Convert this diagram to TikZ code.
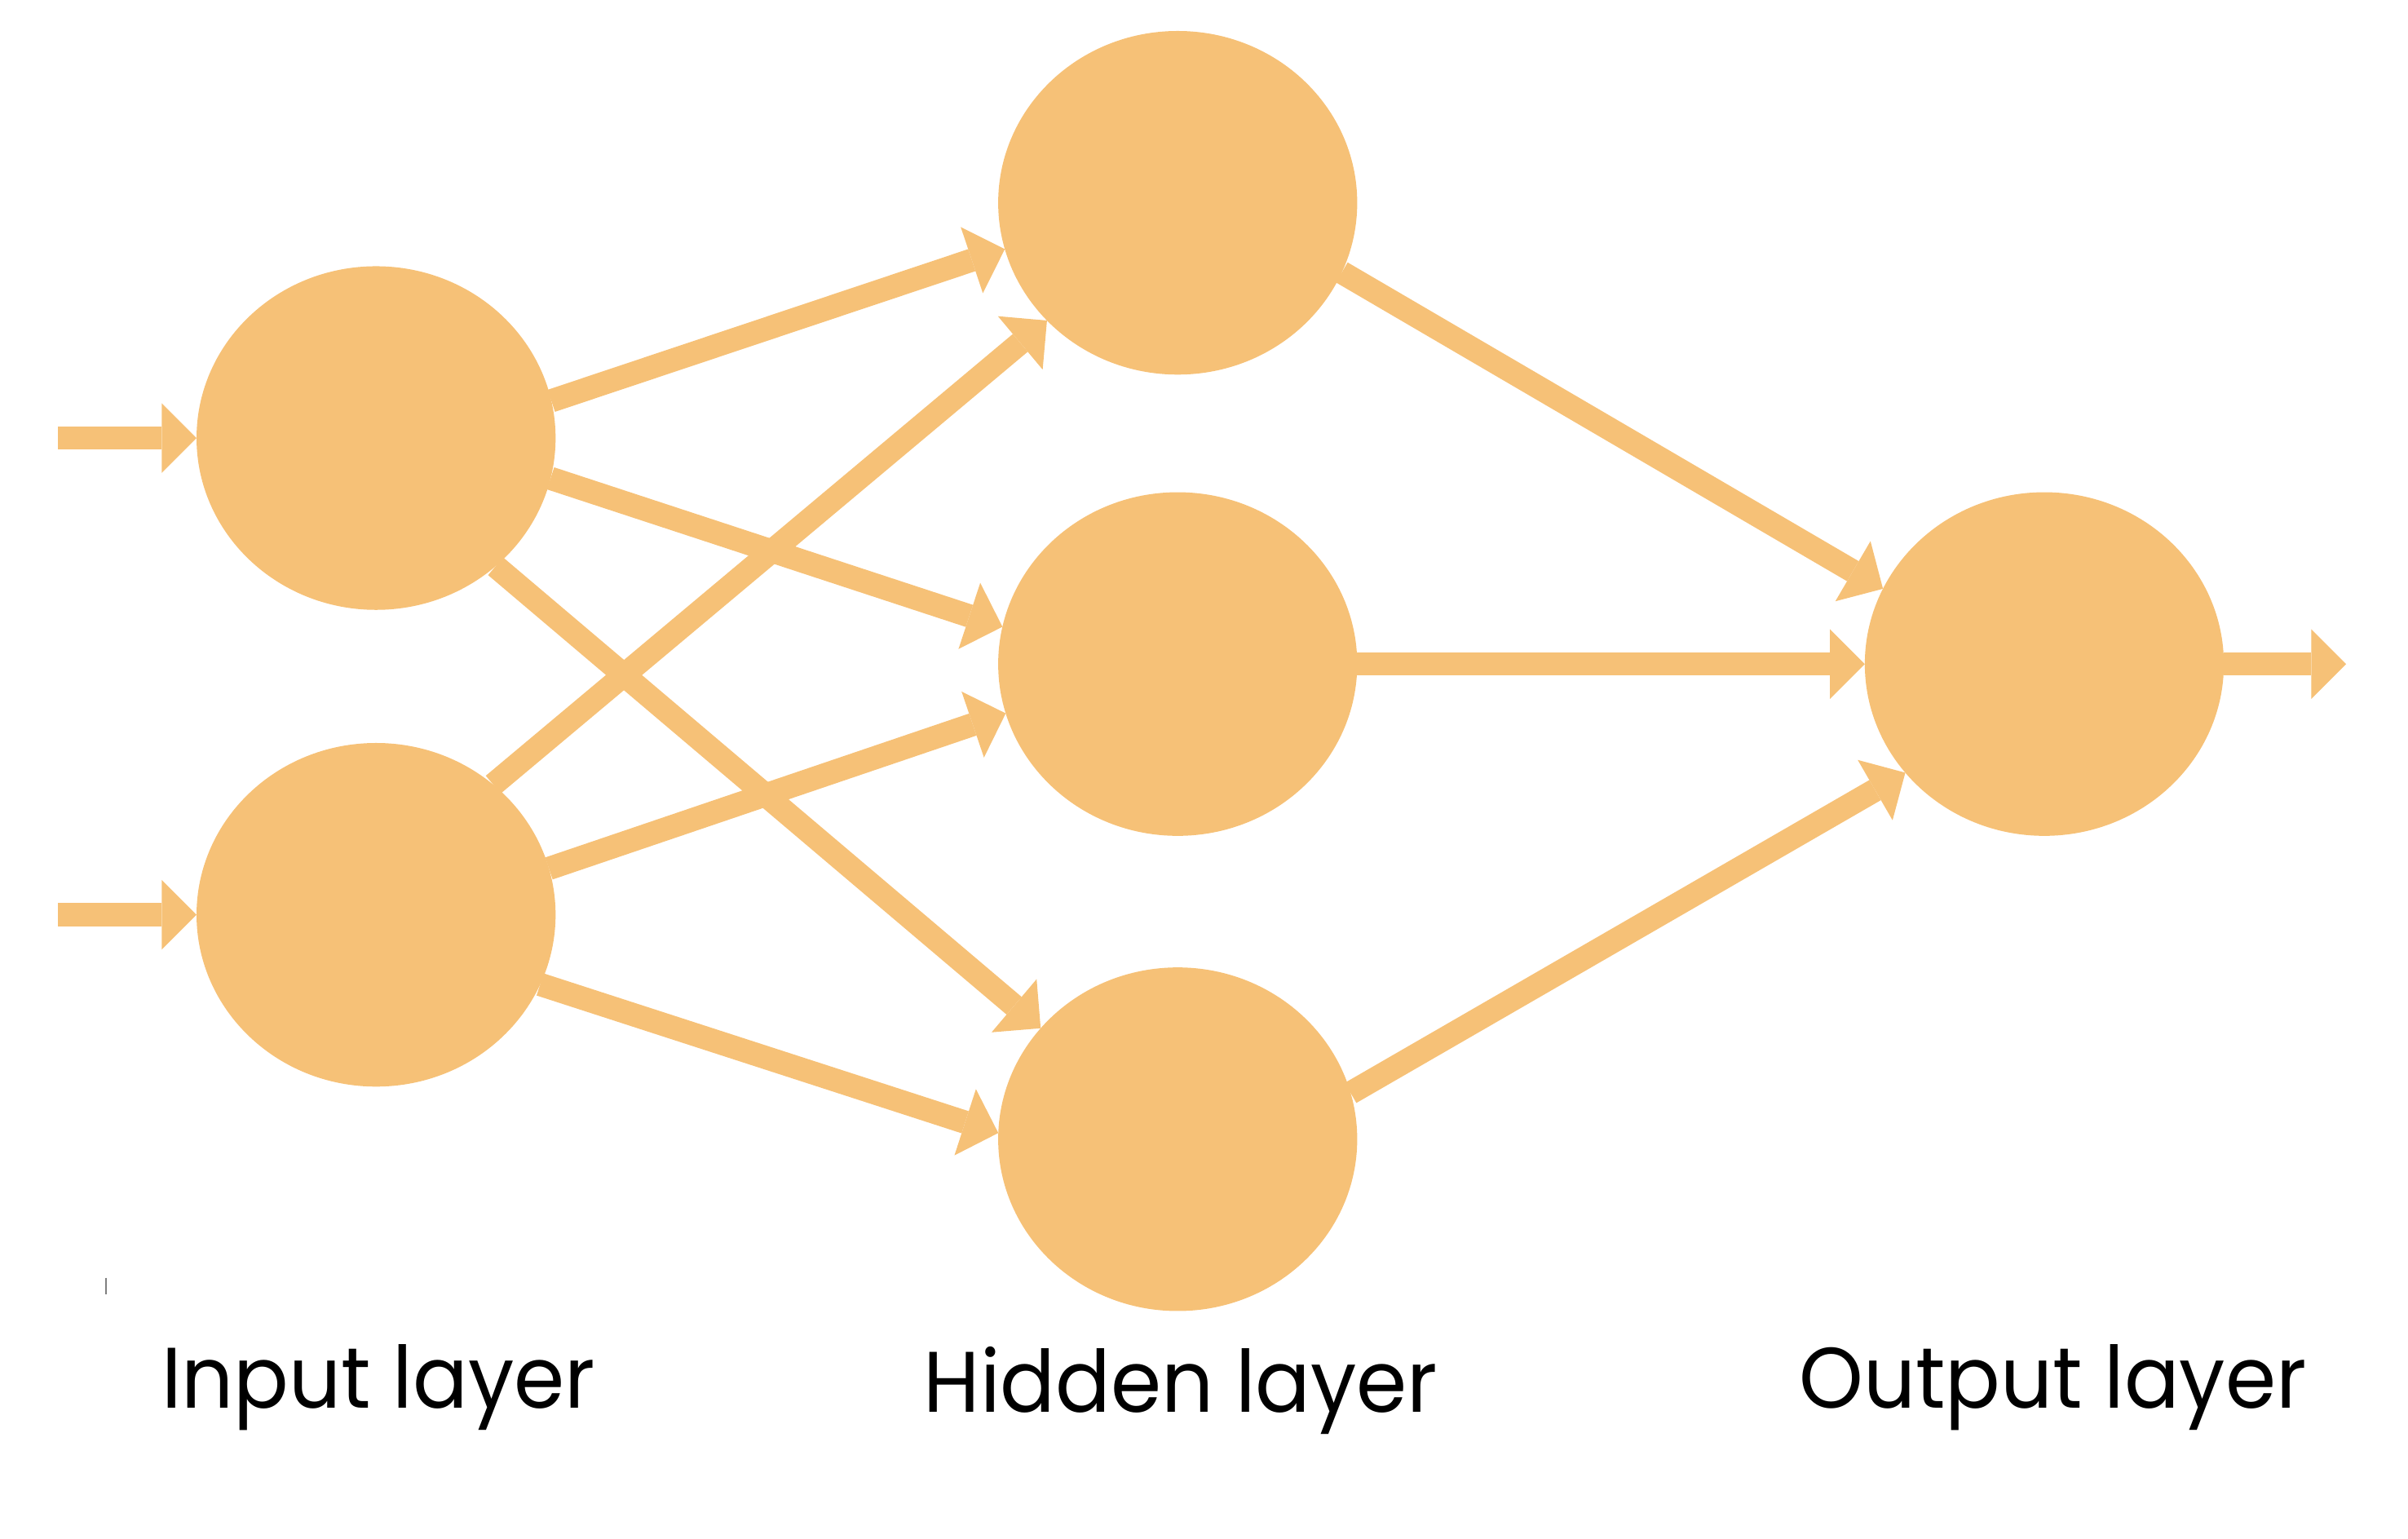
\documentclass[tikz,border=0pt]{standalone}
\usepackage{fontspec}
\setmainfont{Poppins}[FakeStretch = 0.95]
\usetikzlibrary{arrows.meta,shapes.geometric}

\definecolor{neuroncol}{HTML}{F6C177}

\tikzset{
	neuron/.style = {ellipse, fill = neuroncol, minimum width = 2.32cm, minimum height = 2.22cm, inner sep = 0pt, outer sep = 0pt},
	link/.style = {draw = neuroncol, line width = 1.5mm, -{Triangle[length = 2.25mm, width = 4.5mm, line width = 0pt]}},
	layerlabel/.style = {anchor = base, font = \fontsize{15.8}{19}\selectfont}
}

\begin{document}
\begin{tikzpicture}

\useasboundingbox (0, 0) rectangle (15.56, -9.938);

\node[neuron] (in1) at (2.43, -2.83) {};
\node[neuron] (in2) at (2.43, -5.91) {};
\node[neuron] (h1) at (7.61, -1.31) {};
\node[neuron] (h2) at (7.61, -4.29) {};
\node[neuron] (h3) at (7.61, -7.36) {};
\node[neuron] (out) at (13.21, -4.29) {};

\coordinate (x1) at (0.376, -2.83);
\coordinate (x2) at (0.376, -5.91);
\coordinate (y) at (15.16, -4.29);

\draw[link] (x1) -- (in1);
\draw[link] (x2) -- (in2);

\draw[link] (in1.12) -- (h1.195);
\draw[link] (in1.347) -- (h2.168);
\draw[link] (in1.313) -- (h3.141);

\draw[link] (in2.48) -- (h1.222);
\draw[link] (in2.15) -- (h2.196);
\draw[link] (in2.337) -- (h3.178);

\draw[link] (h1.337) -- (out.155);
\draw[link] (h2) -- (out);
\draw[link] (h3.15) -- (out.218);

\draw[link] (out) -- (y);

\draw[gray, line width = 0.4pt] (0.685, -8.255) -- (0.685, -8.36);

\node[layerlabel] (inlabel) at (2.445, -9.098) {Input layer};
\node[layerlabel] (hidlabel) at (7.63, -9.126) {Hidden layer};
\node[layerlabel] (outlabel) at (13.265, -9.098) {Output layer};

\end{tikzpicture}
\end{document}
